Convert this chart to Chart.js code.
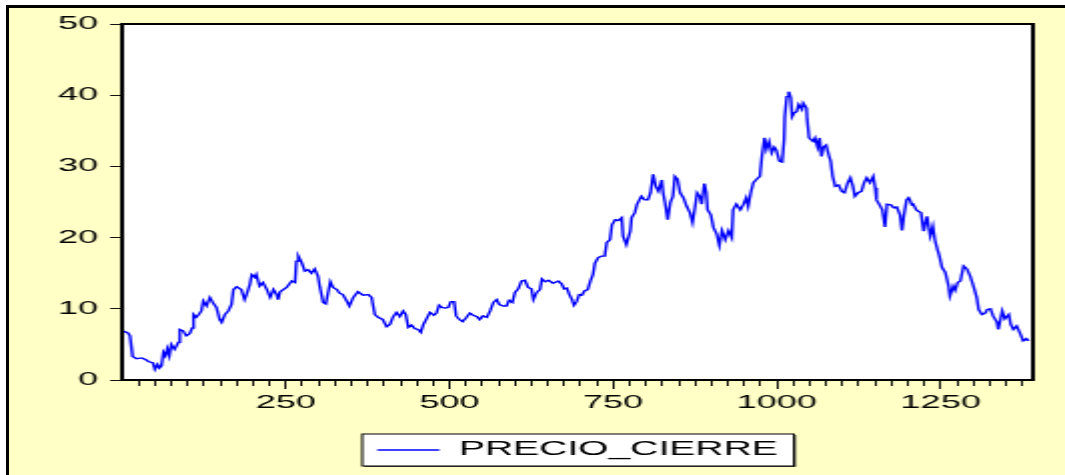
<!DOCTYPE html>
<html lang="es">
<head>
<meta charset="UTF-8">
<title>PRECIO_CIERRE</title>
<script src="https://cdn.jsdelivr.net/npm/chart.js"></script>
<style>
  body { margin: 0; background: #fff; width: 1065px; height: 475px; overflow: hidden; position: relative; }
  #marco { position: absolute; left: 6px; top: 5px; right: 0; bottom: 0; background: #ffffc6; border-left: 3px solid #000; border-top: 3px solid #000; }
  #grafico { position: absolute; left: 0; top: 0; transform: scaleX(2.0019); transform-origin: 0 0; }
</style>
</head>
<body>
<div id="marco"></div>
<canvas id="grafico" width="532" height="475"></canvas>
<script>
// numero de observacion
const observaciones = [
  1, 9, 12, 16, 22, 30, 37, 40, 47, 50, 54, 57, 60, 63, 66, 69, 72, 75, 80, 86,
  88, 93, 98, 103, 107, 109, 113, 117, 121, 124, 129, 134, 139, 144, 149, 152, 157, 162, 167, 170,
  175, 182, 187, 190, 195, 198, 203, 205, 210, 215, 221, 226, 231, 236, 238, 241, 251, 259, 264, 266,
  269, 274, 279, 284, 289, 294, 299, 302, 307, 311, 315, 318, 322, 328, 332, 337, 343, 347, 353, 360,
  368, 376, 381, 383, 386, 391, 398, 404, 409, 414, 419, 424, 429, 433, 437, 442, 447, 452, 456, 460,
  466, 470, 476, 480, 484, 488, 493, 498, 502, 507, 510, 515, 520, 525, 531, 536, 542, 546, 551, 557,
  562, 567, 572, 576, 582, 587, 591, 596, 600, 605, 610, 615, 620, 625, 628, 633, 638, 641, 646, 651,
  658, 666, 671, 675, 679, 683, 687, 690, 694, 698, 702, 706, 711, 715, 719, 722, 727, 732, 737, 740,
  745, 748, 753, 758, 763, 765, 770, 776, 778, 783, 786, 790, 793, 798, 803, 807, 811, 815, 819, 824,
  826, 829, 833, 837, 841, 844, 848, 852, 857, 862, 867, 871, 875, 878, 882, 885, 889, 892, 894, 899,
  903, 908, 912, 916, 921, 926, 931, 933, 938, 944, 949, 953, 956, 960, 964, 969, 974, 977, 981, 984,
  988, 992, 996, 999, 1004, 1008, 1011, 1012, 1015, 1018, 1021, 1023, 1026, 1030, 1033, 1038, 1040, 1045, 1046, 1049,
  1055, 1058, 1062, 1065, 1068, 1071, 1075, 1079, 1082, 1085, 1089, 1094, 1099, 1103, 1108, 1112, 1116, 1119, 1124, 1129,
  1133, 1137, 1142, 1147, 1150, 1152, 1156, 1161, 1165, 1168, 1174, 1178, 1183, 1188, 1191, 1194, 1198, 1201, 1203, 1206,
  1208, 1213, 1216, 1220, 1224, 1229, 1234, 1238, 1241, 1245, 1248, 1252, 1257, 1262, 1264, 1269, 1272, 1276, 1280, 1285,
  1290, 1295, 1300, 1305, 1308, 1313, 1318, 1321, 1326, 1330, 1336, 1338, 1344, 1348, 1354, 1357, 1361, 1366, 1372, 1376,
  1381, 1384
];

const precioCierre = [
  6.9, 6.6, 6.2, 3.3, 3.0, 3.1, 2.8, 2.6, 2.4, 1.5, 2.2, 1.7, 2.0, 3.9, 3.4, 4.4, 3.4, 5.0, 4.3, 5.3,
  7.1, 6.9, 6.2, 6.5, 7.3, 9.2, 8.8, 9.2, 9.7, 11.1, 10.4, 11.6, 10.8, 10.2, 8.5, 8.1, 9.2, 9.7, 10.6, 12.7,
  13.1, 12.7, 11.3, 12.0, 13.4, 14.8, 14.4, 14.8, 13.2, 13.7, 12.7, 11.6, 12.7, 12.0, 11.3, 12.4, 13.0, 13.9, 13.7, 16.7,
  17.4, 16.5, 15.3, 15.5, 15.0, 15.6, 14.6, 13.0, 10.9, 10.7, 12.5, 13.8, 13.0, 12.7, 12.2, 12.0, 11.1, 10.4, 11.6, 12.4,
  11.9, 12.0, 11.6, 10.6, 9.2, 8.8, 8.5, 7.5, 7.8, 8.9, 9.5, 8.9, 9.7, 9.2, 7.4, 7.7, 7.2, 7.1, 6.7, 7.8,
  8.8, 9.5, 9.1, 9.4, 10.5, 10.2, 10.1, 10.2, 11.0, 11.0, 9.0, 8.5, 8.2, 8.7, 9.4, 9.1, 8.9, 8.5, 9.0, 8.8,
  9.7, 10.9, 11.3, 10.6, 10.4, 10.4, 11.2, 10.9, 12.3, 12.8, 13.9, 14.0, 13.0, 12.8, 11.3, 12.3, 12.7, 14.2, 13.8, 14.0,
  13.6, 13.9, 13.5, 12.8, 12.9, 12.0, 11.3, 10.5, 11.0, 12.0, 11.9, 12.5, 12.7, 13.9, 14.8, 16.4, 17.2, 17.4, 17.4, 19.3,
  19.7, 21.8, 22.5, 22.4, 22.8, 20.2, 19.0, 20.9, 22.8, 23.5, 24.6, 25.3, 25.8, 25.3, 25.3, 26.3, 28.9, 27.2, 26.5, 28.1,
  26.3, 24.9, 22.5, 24.9, 25.8, 28.6, 28.2, 26.3, 25.6, 24.4, 23.5, 22.1, 24.4, 26.3, 25.8, 24.7, 27.6, 26.3, 23.9, 23.2,
  21.4, 20.5, 18.9, 21.0, 19.7, 21.0, 20.0, 23.9, 24.7, 23.9, 24.7, 25.6, 24.4, 26.3, 27.7, 28.2, 28.6, 31.4, 34.0, 32.4,
  33.5, 31.9, 32.7, 32.3, 30.7, 30.6, 33.8, 37.0, 39.8, 40.5, 39.6, 37.0, 37.5, 37.7, 38.7, 38.0, 38.9, 38.2, 36.6, 34.0,
  33.5, 34.0, 32.7, 34.0, 31.4, 32.7, 33.0, 31.6, 30.7, 28.6, 27.2, 27.4, 26.5, 26.3, 27.7, 28.4, 27.2, 25.8, 26.3, 26.5,
  27.7, 28.4, 27.7, 28.6, 27.0, 25.3, 24.7, 23.9, 21.5, 24.7, 24.6, 24.2, 24.3, 23.2, 21.0, 23.2, 25.3, 25.6, 25.3, 24.6,
  24.7, 23.9, 23.7, 23.5, 20.9, 23.0, 20.2, 21.6, 19.7, 18.3, 17.4, 15.8, 15.1, 13.2, 11.8, 13.2, 12.6, 13.7, 13.9, 16.0,
  15.6, 14.6, 13.2, 11.6, 9.9, 9.2, 9.4, 9.9, 10.0, 9.0, 8.1, 7.1, 9.7, 8.6, 9.2, 7.8, 7.1, 7.6, 6.4, 5.5,
  5.8, 5.5
];

const marcasX = [250, 500, 750, 1000, 1250];
const marcasY = [0, 10, 20, 30, 40, 50];
const pasoMenorX = 25;
const nombreSerie = "PRECIO_CIERRE";

const fuente = { family: "'Liberation Sans', Arial, sans-serif", size: 18 };

// fondo blanco del area de trazado, recuadro de la leyenda y borde negro
const marcoGrafico = {
  id: "marcoGrafico",
  beforeDraw(chart) {
    const { ctx, chartArea: a } = chart;
    ctx.save();
    ctx.fillStyle = "#fff";
    ctx.fillRect(a.left, a.top, a.width, a.height);

    const hb = chart.legend.legendHitBoxes[0];
    if (hb) {
      const cy = hb.top + hb.height / 2;
      const x0 = hb.left - 7.5;
      const x1 = hb.left + hb.width + 8;
      ctx.fillStyle = "#444";
      ctx.fillRect(x0 + 1, cy - 15, x1 - x0, 32);
      ctx.fillStyle = "#fff";
      ctx.fillRect(x0, cy - 16, x1 - x0, 32);
      ctx.strokeStyle = "#000";
      ctx.lineWidth = 1;
      ctx.strokeRect(x0, cy - 16, x1 - x0, 32);
    }
    ctx.restore();
  },
  afterDraw(chart) {
    const { ctx, chartArea: a } = chart;
    ctx.save();
    ctx.strokeStyle = "#000";
    ctx.lineWidth = 2;
    ctx.strokeRect(a.left, a.top, a.width, a.height);
    ctx.restore();
  }
};

new Chart(document.getElementById("grafico"), {
  type: "line",
  data: {
    datasets: [{
      label: nombreSerie,
      data: observaciones.map((x, i) => ({ x: x, y: precioCierre[i] })),
      borderColor: "#0000ff",
      borderWidth: 1.4,
      pointRadius: 0,
      tension: 0,
      fill: false
    }]
  },
  options: {
    responsive: false,
    animation: false,
    events: [],
    devicePixelRatio: 1,
    layout: { padding: { left: 0, right: 16, top: 24, bottom: 5.25 } },
    scales: {
      x: {
        type: "linear",
        min: 0,
        max: 1391,
        afterBuildTicks(scale) {
          const ticks = [];
          for (let v = pasoMenorX; v < scale.max; v += pasoMenorX) ticks.push({ value: v });
          scale.ticks = ticks;
        },
        afterFit(scale) { scale.height = 52.25; },
        ticks: {
          autoSkip: false,
          maxRotation: 0,
          padding: 3,
          color: "#000",
          font: fuente,
          callback: (v) => (marcasX.includes(v) ? String(v) : "")
        },
        grid: {
          drawOnChartArea: false,
          tickLength: 9,
          tickWidth: 1,
          tickColor: "#111",
          tickBorderDash: (c) => (c.tick && marcasX.includes(c.tick.value) ? [] : [5, 40])
        },
        border: { color: "#000", width: 2 }
      },
      y: {
        min: 0,
        max: 50,
        afterBuildTicks(scale) {
          scale.ticks = marcasY.map((v) => ({ value: v }));
        },
        afterFit(scale) { scale.width = 61; },
        ticks: { padding: 6, color: "#000", font: fuente },
        grid: { drawOnChartArea: false, tickLength: 6, tickWidth: 1, tickColor: "#111" },
        border: { color: "#000", width: 2 }
      }
    },
    plugins: {
      tooltip: { enabled: false },
      legend: {
        position: "bottom",
        fullSize: false,
        labels: {
          usePointStyle: true,
          pointStyle: "line",
          pointStyleWidth: 31,
          padding: 8,
          color: "#000",
          font: { family: "'Liberation Sans', Arial, sans-serif", size: 19.5 }
        }
      }
    }
  },
  plugins: [marcoGrafico]
});
</script>
</body>
</html>
